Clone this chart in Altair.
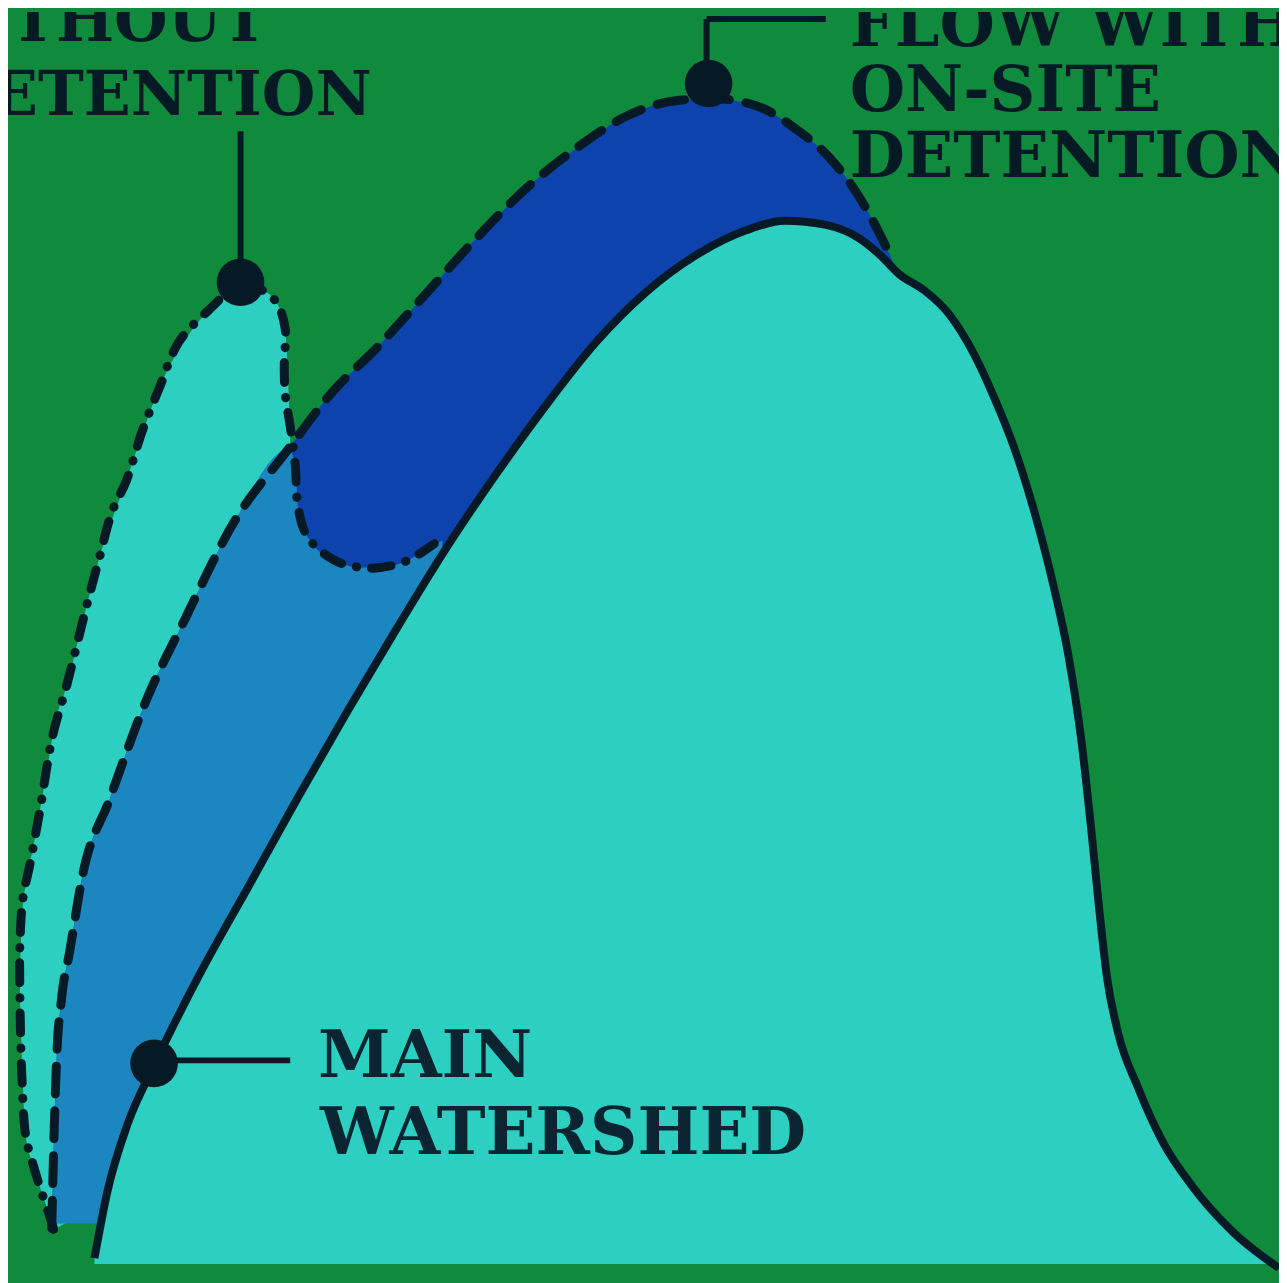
import altair as alt
import pandas as pd

# Main watershed hydrograph (solid line)
main_t = [95, 108, 128, 155, 200, 250, 300, 350, 400, 450, 500, 550, 600, 650, 700, 750, 790, 830, 865, 885, 905, 930, 955, 980, 1000, 1020, 1040, 1060, 1075, 1088, 1098, 1106, 1114, 1125, 1145, 1170, 1200, 1240, 1287]
main_q = [1262, 1195, 1128, 1068, 978, 888, 798, 711, 627, 546, 472, 403, 340, 290, 253, 228, 218, 222, 236, 252, 272, 288, 312, 352, 395, 445, 508, 585, 655, 740, 830, 910, 980, 1035, 1090, 1145, 1190, 1235, 1272]

# Flow with on-site detention (dashed line)
with_t = [52, 54, 57, 62, 70, 83, 110, 147, 187, 235, 290, 333, 380, 430, 480, 530, 580, 630, 675, 715, 760, 800, 835, 862, 882, 898]
with_q = [1232, 1150, 1060, 1000, 954, 877, 801, 701, 617, 522, 448, 392, 345, 290, 235, 185, 145, 113, 98, 95, 102, 125, 155, 190, 225, 258]

# Flow without detention (dash-dot line, traced as a path)
wo_t = [54, 49, 40, 33, 26, 22, 20, 20, 23, 30, 40, 53, 67, 87, 100, 113, 127, 143, 160, 180, 210, 242, 262, 278, 287, 286, 287, 292, 297, 300, 310, 337, 363, 383, 410, 437]
wo_q = [1233, 1217, 1190, 1167, 1140, 1080, 1000, 946, 900, 866, 812, 736, 686, 606, 557, 510, 480, 430, 387, 340, 308, 282, 287, 300, 327, 360, 393, 425, 463, 507, 537, 560, 567, 567, 560, 543]

# Region exceeding the detained flow (light band), top and bottom edges
band_t = [20, 22, 26, 33, 40, 49, 54, 67, 87, 100, 127, 160, 210, 242, 262, 278, 287, 292]
band_top = [975, 920, 885, 850, 812, 760, 730, 686, 606, 557, 480, 387, 308, 282, 287, 300, 330, 430]
band_bot = [1000, 1060, 1140, 1167, 1190, 1217, 1233, 1227, 1227, 1227, 1227, 1227, 1227, 1227, 1227, 1227, 1227, 1227]

# Region under both detained and undetained flow (medium blue)
both_t = [52, 54, 57, 62, 70, 83, 110, 147, 187, 235, 290, 297, 300, 310, 337, 363, 383, 410, 437, 445]
both_q = [1232, 1150, 1060, 1000, 954, 877, 801, 701, 617, 522, 448, 463, 507, 537, 560, 567, 567, 560, 543, 540]

# Markers and labels
dot_t = [242, 713, 155]
dot_q = [280, 80, 1066]
leader_t = [242, 711, 711, 178]
leader_q = [128, 15, 15, 1063]
leader_t2 = [242, 711, 831, 292]
leader_q2 = [258, 60, 15, 1063]

label_text = ["FLOW WITH", "ON-SITE", "DETENTION"]
label_t = [855, 855, 855]
label_q = [42, 108, 174]
main_text = ["MAIN", "WATERSHED"]
main_text_t = [320, 322]
main_text_q = [1080, 1157]
left_text = ["WITHOUT", "DETENTION"]
left_t = [269, 374]
left_q = [37, 112]

BASE_BAND = 1227
BASE_MAIN = 1268

GREEN = "#108a3c"
CYAN = "#2ccfc0"
DARKBLUE = "#0e43ad"
MIDBLUE = "#1b86c0"
INK = "#061a26"

xs = alt.Scale(domain=[8, 1287], nice=False, zero=False)
ys = alt.Scale(domain=[8, 1283], nice=False, zero=False, reverse=True)


def X(f="t"):
    return alt.X(f"{f}:Q", scale=xs, axis=None)


def Y(f="q"):
    return alt.Y(f"{f}:Q", scale=ys, axis=None)


band_df = pd.DataFrame({"t": band_t, "q": band_top, "q2": band_bot})
with_df = pd.DataFrame({"t": with_t, "q": with_q, "q2": [BASE_BAND] * len(with_t)})
both_df = pd.DataFrame({"t": both_t, "q": both_q, "q2": [BASE_BAND] * len(both_t)})
main_df = pd.DataFrame({"t": main_t, "q": main_q, "q2": [BASE_MAIN] * len(main_t)})
wo_df = pd.DataFrame({"t": wo_t, "q": wo_q, "i": list(range(len(wo_t)))})
dots_df = pd.DataFrame({"t": dot_t, "q": dot_q})
lead_df = pd.DataFrame({"t": leader_t, "q": leader_q, "t2": leader_t2, "q2": leader_q2})
lab_df = pd.DataFrame({"t": label_t, "q": label_q, "s": label_text})
main_lab_df = pd.DataFrame({"t": main_text_t, "q": main_text_q, "s": main_text})
left_df = pd.DataFrame({"t": left_t, "q": left_q, "s": left_text})

SMOOTH = "monotone"

band = alt.Chart(band_df).mark_area(color=CYAN, clip=True, interpolate=SMOOTH).encode(
    x=X(), y=Y(), y2="q2:Q")
withA = alt.Chart(with_df).mark_area(color=DARKBLUE, clip=True, interpolate=SMOOTH).encode(
    x=X(), y=Y(), y2="q2:Q")
bothA = alt.Chart(both_df).mark_area(color=MIDBLUE, clip=True, interpolate=SMOOTH).encode(
    x=X(), y=Y(), y2="q2:Q")
mainA = alt.Chart(main_df).mark_area(color=CYAN, clip=True, interpolate=SMOOTH).encode(
    x=X(), y=Y(), y2="q2:Q")

withL = alt.Chart(with_df).mark_line(
    color=INK, strokeWidth=9, strokeDash=[28, 17], strokeCap="round", clip=True,
    interpolate=SMOOTH
).encode(x=X(), y=Y())
woL = alt.Chart(wo_df).mark_line(
    color=INK, strokeWidth=9, strokeDash=[20, 15, 0.5, 15], strokeCap="round", clip=True,
    interpolate="catmull-rom"
).encode(x=X(), y=Y(), order=alt.Order("i:Q"))
mainL = alt.Chart(main_df).mark_line(
    color=INK, strokeWidth=8, clip=True, interpolate=SMOOTH
).encode(x=X(), y=Y())

leads = alt.Chart(lead_df).mark_rule(color=INK, strokeWidth=6, clip=True).encode(
    x=X(), y=Y(), x2="t2:Q", y2="q2:Q"
)
dots = alt.Chart(dots_df).mark_point(
    filled=True, shape="circle", size=2300, color=INK, opacity=1, clip=True
).encode(x=X(), y=Y())

labels = alt.Chart(lab_df).mark_text(
    font="DejaVu Serif", fontWeight="bold", fontSize=64, color=INK,
    align="left", baseline="alphabetic", clip=True
).encode(x=X(), y=Y(), text="s:N")
main_labels = alt.Chart(main_lab_df).mark_text(
    font="DejaVu Serif", fontWeight="bold", fontSize=66, color="#0a2432",
    align="left", baseline="alphabetic", clip=True
).encode(x=X(), y=Y(), text="s:N")
left_labels = alt.Chart(left_df).mark_text(
    font="DejaVu Serif", fontWeight="bold", fontSize=62, color=INK,
    align="right", baseline="alphabetic", clip=True
).encode(x=X(), y=Y(), text="s:N")

chart = alt.layer(
    band, withA, bothA, mainA, withL, woL, mainL, leads, dots, labels, main_labels, left_labels
).properties(
    width=1279, height=1275, background=GREEN, padding=0, autosize="none"
).configure_view(stroke=None, fill=GREEN)

chart.save("out.html", embed_options={"renderer": "svg", "actions": False})
